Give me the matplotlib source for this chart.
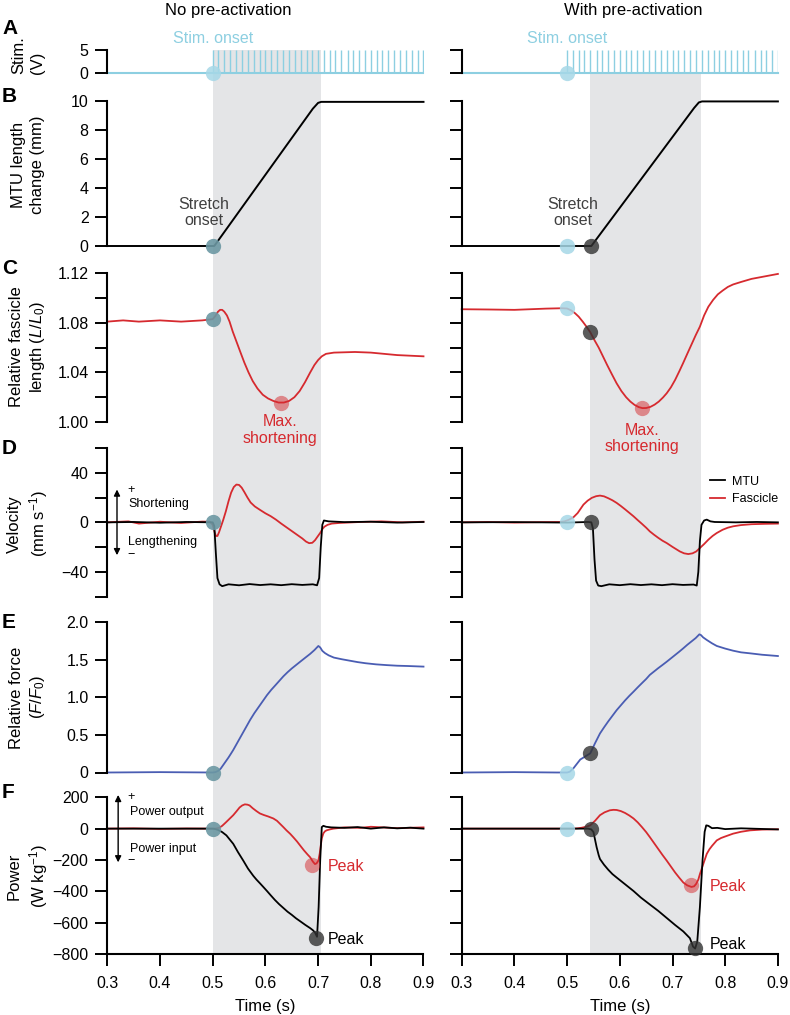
# Figura de estimulación, longitud, velocidad, fuerza y potencia
# (sin y con pre-activación), recreada con matplotlib.
import matplotlib
matplotlib.use("Agg")
import matplotlib.pyplot as plt
from matplotlib.patches import Rectangle
from matplotlib.transforms import blended_transform_factory

plt.rcParams["font.family"] = ["Liberation Sans", "DejaVu Sans"]
plt.rcParams["mathtext.fontset"] = "custom"
plt.rcParams["mathtext.rm"] = "Liberation Sans"
plt.rcParams["mathtext.it"] = "Liberation Sans:italic"
plt.rcParams["mathtext.bf"] = "Liberation Sans:bold"

# ---------------------------------------------------------------- datos
# Pulsos de estimulación (s), amplitud 5 V
stim_times = [0.500, 0.511, 0.522, 0.533, 0.544, 0.556, 0.567, 0.578, 0.589,
              0.600, 0.611, 0.622, 0.633, 0.644, 0.656, 0.667, 0.678, 0.689,
              0.700, 0.711, 0.722, 0.733, 0.744, 0.756, 0.767, 0.778, 0.789,
              0.800, 0.811, 0.822, 0.833, 0.844, 0.856, 0.867, 0.878, 0.889,
              0.900]
stim_amp = 5

# B: cambio de longitud del MTU (mm)
mtu_len_t_nopre = [0.300, 0.503, 0.690, 0.700, 0.706, 0.900]
mtu_len_nopre = [0.0, 0.0, 9.45, 9.85, 9.92, 9.92]
mtu_len_t_pre = [0.300, 0.546, 0.741, 0.750, 0.756, 0.900]
mtu_len_pre = [0.0, 0.0, 9.50, 9.88, 9.95, 9.95]

# C: longitud relativa del fascículo
fas_len_t_nopre = [0.300, 0.330, 0.360, 0.400, 0.440, 0.480, 0.500, 0.505,
                   0.510, 0.514, 0.518, 0.522, 0.527, 0.532, 0.538, 0.545,
                   0.552, 0.560, 0.568, 0.576, 0.585, 0.595, 0.605, 0.615,
                   0.625, 0.635, 0.645, 0.655, 0.665, 0.675, 0.685, 0.693,
                   0.700, 0.707, 0.715, 0.730, 0.770, 0.800, 0.850, 0.900]
fas_len_nopre = [1.081, 1.082, 1.081, 1.082, 1.081, 1.082, 1.083, 1.0855,
                 1.089, 1.0905, 1.0905, 1.089, 1.086, 1.081, 1.073, 1.065,
                 1.057, 1.048, 1.040, 1.033, 1.027, 1.022, 1.019, 1.017,
                 1.0157, 1.0157, 1.017, 1.020, 1.025, 1.032, 1.040, 1.046,
                 1.050, 1.053, 1.055, 1.056, 1.0565, 1.056, 1.054, 1.053]
fas_len_t_pre = [0.300, 0.350, 0.400, 0.460, 0.490, 0.500, 0.508, 0.515,
                 0.522, 0.530, 0.537, 0.544, 0.552, 0.560, 0.568, 0.576,
                 0.585, 0.594, 0.603, 0.612, 0.620, 0.628, 0.636, 0.643,
                 0.650, 0.658, 0.666, 0.674, 0.682, 0.689, 0.697, 0.705,
                 0.713, 0.720, 0.728, 0.736, 0.744, 0.752, 0.760, 0.768,
                 0.777, 0.786, 0.795, 0.805, 0.815, 0.830, 0.850, 0.875,
                 0.900]
fas_len_pre = [1.091, 1.0908, 1.0905, 1.0915, 1.0918, 1.0916, 1.0900, 1.0878,
               1.0850, 1.0808, 1.0768, 1.0724, 1.0660, 1.0600, 1.0530, 1.0460,
               1.0385, 1.0312, 1.0250, 1.0200, 1.0165, 1.0138, 1.0120, 1.0112,
               1.0113, 1.0122, 1.0140, 1.0165, 1.0198, 1.0232, 1.0280, 1.0340,
               1.0410, 1.0474, 1.0550, 1.0625, 1.0700, 1.0770, 1.0860, 1.0930,
               1.0985, 1.1030, 1.1060, 1.1090, 1.1110, 1.1130, 1.1155, 1.1175,
               1.1195]

# D: velocidad (mm s-1)
mtu_vel_t_nopre = [0.300, 0.350, 0.400, 0.450, 0.500, 0.503, 0.506, 0.509,
                   0.513, 0.518, 0.530, 0.550, 0.570, 0.590, 0.610, 0.630,
                   0.650, 0.670, 0.690, 0.698, 0.702, 0.705, 0.708, 0.711,
                   0.720, 0.750, 0.800, 0.850, 0.900]
mtu_vel_nopre = [0.0, 0.3, -0.3, 0.3, 0.0, -3, -25, -45, -50, -51.5, -50,
                 -50.8, -49.8, -50.6, -50, -50.7, -49.9, -50.5, -50, -50.8,
                 -45, -20, -2, 1.5, 0.8, 0.2, 0.5, -0.2, 0.3]
fas_vel_t_nopre = [0.300, 0.340, 0.360, 0.400, 0.440, 0.480, 0.495, 0.500,
                   0.503, 0.506, 0.509, 0.512, 0.516, 0.520, 0.525, 0.530,
                   0.535, 0.540, 0.545, 0.550, 0.555, 0.560, 0.566, 0.572,
                   0.580, 0.590, 0.600, 0.610, 0.620, 0.630, 0.640, 0.650,
                   0.660, 0.670, 0.677, 0.683, 0.689, 0.694, 0.699, 0.704,
                   0.708, 0.712, 0.718, 0.726, 0.740, 0.780, 0.820, 0.860,
                   0.900]
fas_vel_nopre = [0.0, 0.8, -1.0, 0.5, -0.5, 0.6, 0.5, -2, -7, -11, -11, -8,
                 -3, 2, 9, 17, 24, 28.5, 30.5, 30.2, 28, 24.5, 20, 16, 12.8,
                 10, 7.3, 5, 2.2, -1, -4, -7, -10, -13, -15.5, -16.8, -16.5,
                 -14.5, -11.5, -8.5, -5.5, -3.5, -2, -1, -0.5, 0.3, 0.8, 0.0,
                 0.5]
mtu_vel_t_pre = [0.300, 0.400, 0.500, 0.540, 0.546, 0.549, 0.552, 0.555,
                 0.559, 0.565, 0.580, 0.600, 0.620, 0.640, 0.660, 0.680,
                 0.700, 0.720, 0.740, 0.746, 0.749, 0.752, 0.755, 0.760,
                 0.765, 0.772, 0.780, 0.820, 0.860, 0.900]
mtu_vel_pre = [0.0, 0.2, -0.2, 0.3, 0.0, -5, -30, -47, -51, -51.5, -50, -50.7,
               -49.9, -50.6, -50, -50.7, -49.9, -50.5, -50.2, -51, -40, -15,
               -2, 1.5, 2.2, 0.8, 0.3, 0.0, 0.3, 0.0]
fas_vel_t_pre = [0.300, 0.350, 0.400, 0.450, 0.486, 0.495, 0.503, 0.512,
                 0.520, 0.531, 0.539, 0.547, 0.555, 0.5624, 0.570, 0.578,
                 0.586, 0.594, 0.602, 0.610, 0.618, 0.626, 0.634, 0.642,
                 0.650, 0.657, 0.665, 0.673, 0.681, 0.689, 0.700, 0.714,
                 0.722, 0.730, 0.738, 0.745, 0.752, 0.760, 0.768, 0.776,
                 0.784, 0.795, 0.805, 0.815, 0.830, 0.850, 0.875, 0.900]
fas_vel_pre = [0.0, 0.3, -0.2, 0.2, 0.3, 0.8, 2.0, 4.1, 7.5, 14.3, 17.5, 19.8,
               21.1, 21.6, 21.0, 19.5, 17.8, 15.7, 13.2, 10.5, 7.7, 4.9, 1.8,
               -1.2, -4.3, -7.3, -10, -12.5, -14.8, -16.7, -19.8, -23.5, -25,
               -25.6, -25, -23.5, -20.7, -17.5, -14, -11, -8.6, -6, -4.3,
               -3.2, -2.2, -1.5, -1.2, -1.0]

# E: fuerza relativa
force_t_nopre = [0.300, 0.400, 0.500, 0.505, 0.510, 0.515, 0.520, 0.525,
                 0.530, 0.535, 0.539, 0.547, 0.555, 0.563, 0.571, 0.579,
                 0.587, 0.595, 0.603, 0.611, 0.620, 0.627, 0.634, 0.642,
                 0.650, 0.658, 0.666, 0.675, 0.685, 0.693, 0.7005, 0.704,
                 0.708, 0.713, 0.720, 0.730, 0.745, 0.760, 0.775, 0.790,
                 0.810, 0.830, 0.850, 0.870, 0.900]
force_nopre = [0.0, 0.005, 0.0, 0.005, 0.02, 0.05, 0.10, 0.15, 0.20, 0.255,
               0.30, 0.40, 0.50, 0.60, 0.70, 0.79, 0.87, 0.95, 1.03, 1.10,
               1.17, 1.225, 1.28, 1.335, 1.385, 1.43, 1.475, 1.525, 1.58,
               1.63, 1.685, 1.665, 1.62, 1.59, 1.56, 1.53, 1.508, 1.489, 1.47,
               1.455, 1.44, 1.43, 1.422, 1.418, 1.41]
force_t_pre = [0.300, 0.400, 0.480, 0.500, 0.505, 0.512, 0.525, 0.544,
               0.553, 0.5624, 0.570, 0.578, 0.586, 0.594, 0.602, 0.610,
               0.618, 0.626, 0.634, 0.642, 0.650, 0.657, 0.665, 0.673,
               0.681, 0.689, 0.697, 0.705, 0.713, 0.7205, 0.728, 0.736,
               0.744, 0.751, 0.754, 0.758, 0.765, 0.775, 0.784, 0.800,
               0.815, 0.830, 0.847, 0.870, 0.900]
force_pre = [0.0, 0.005, 0.0, 0.0, 0.01, 0.056, 0.173, 0.255, 0.39, 0.52,
             0.60, 0.68, 0.755, 0.83, 0.895, 0.96, 1.02, 1.076, 1.134, 1.19,
             1.245, 1.30, 1.345, 1.39, 1.432, 1.475, 1.52, 1.565, 1.61,
             1.654, 1.70, 1.745, 1.79, 1.84, 1.83, 1.80, 1.765, 1.72, 1.685,
             1.65, 1.622, 1.60, 1.587, 1.568, 1.551]

# F: potencia (W kg-1)
mtu_pow_t_nopre = [0.300, 0.400, 0.500, 0.505, 0.510, 0.518, 0.526, 0.532,
                   0.539, 0.548, 0.558, 0.567, 0.577, 0.583, 0.590, 0.596,
                   0.603, 0.610, 0.618, 0.626, 0.634, 0.642, 0.650, 0.658,
                   0.666, 0.676, 0.685, 0.690, 0.694, 0.698, 0.701, 0.704,
                   0.707, 0.710, 0.715, 0.725, 0.750, 0.775, 0.800, 0.825,
                   0.850, 0.875, 0.900]
mtu_pow_nopre = [0, 0, 0, -3, -8, -22, -43, -68, -97, -150, -204, -255, -301,
                 -325, -350, -372, -398, -425, -455, -482, -506, -530, -550,
                 -572, -591, -615, -635, -648, -662, -690, -500, -200, 10, 18,
                 12, 8, 5, 10, 0, 8, 2, 6, 0]
fas_pow_t_nopre = [0.300, 0.350, 0.400, 0.450, 0.500, 0.506, 0.512, 0.518,
                   0.525, 0.532, 0.539, 0.545, 0.551, 0.556, 0.561, 0.566,
                   0.570, 0.576, 0.583, 0.5895, 0.597, 0.605, 0.615, 0.622,
                   0.628, 0.634, 0.640, 0.647, 0.653, 0.660, 0.666, 0.673,
                   0.680, 0.685, 0.690, 0.694, 0.697, 0.7005, 0.703, 0.705,
                   0.707, 0.710, 0.713, 0.716, 0.722, 0.729, 0.750, 0.780,
                   0.800, 0.850, 0.900]
fas_pow_nopre = [0, 2, -2, 1, 0, 1, 5, 18, 40, 63, 86, 110, 135, 148, 155,
                 153, 148, 130, 112, 97, 87, 78, 65, 50, 30, 10, -11, -33,
                 -55, -82, -108, -138, -165, -183, -210, -226, -222, -204,
                 -160, -110, -62, -30, -17, -11, -5, 0, 8, 5, 12, 3, 8]
mtu_pow_t_pre = [0.300, 0.400, 0.500, 0.540, 0.546, 0.550, 0.553, 0.556,
                 0.560, 0.5624, 0.570, 0.578, 0.586, 0.594, 0.610, 0.626,
                 0.640, 0.657, 0.673, 0.689, 0.705, 0.7205, 0.733, 0.739,
                 0.743, 0.747, 0.752, 0.757, 0.761, 0.764, 0.768, 0.775,
                 0.785, 0.800, 0.830, 0.860, 0.900]
mtu_pow_pre = [0, 0, 0, 0, -5, -22, -70, -118, -170, -194, -230, -262, -290,
               -312, -355, -398, -440, -484, -525, -570, -615, -656, -699,
               -753, -765, -720, -500, -200, -20, 21, 18, 3, 5, -3, 2, -1, -5]
fas_pow_t_pre = [0.300, 0.400, 0.500, 0.512, 0.520, 0.528, 0.536, 0.544,
                 0.553, 0.5624, 0.571, 0.581, 0.588, 0.594, 0.602, 0.610,
                 0.618, 0.626, 0.634, 0.642, 0.650, 0.657, 0.665, 0.673,
                 0.681, 0.689, 0.697, 0.705, 0.713, 0.7205, 0.728, 0.736,
                 0.741, 0.745, 0.749, 0.752, 0.756, 0.760, 0.765, 0.770,
                 0.775, 0.784, 0.792, 0.800, 0.815, 0.830, 0.847, 0.870,
                 0.900]
fas_pow_pre = [0, 0, 0, 0, 2, 6, 12, 21, 50, 86, 104, 117, 120, 119, 112, 100,
               84, 65, 40, 10, -22, -54, -92, -130, -168, -204, -242, -280,
               -314, -344, -362, -372, -368, -352, -325, -290, -250, -210,
               -161, -132, -110, -75, -60, -50, -32, -20, -11, -6, -4]

# Eventos marcados con círculos
stim_onset = 0.500
stretch_onset_pre = 0.545
shade_nopre = (0.500, 0.705)
shade_pre = (0.544, 0.754)
max_short_nopre = (0.630, 1.0155)
max_short_pre = (0.643, 1.011)
fas_peak_nopre = (0.688, -230)
mtu_peak_nopre = (0.696, -695)
fas_peak_pre = (0.735, -362)
mtu_peak_pre = (0.7427, -764)

# ---------------------------------------------------------------- estilo
STIM = "#8DCFE1"
RED = "#D62A2F"
BLUE = "#4A5DB3"
SHADE = "#E4E5E7"
ONSET_BOTH = "#6C98A3"
ONSET_STIM = "#A6D8E7"
DARK = "#333333"

W, H = 790, 1015
fig = plt.figure(figsize=(W / 100, H / 100), dpi=100)

# Filas: (y_superior, y_inferior) en píxeles
rows = {"A": (50.0, 72.7), "B": (100.7, 246.0), "C": (273.3, 422.0),
        "D": (448.0, 596.7), "E": (622.3, 772.5), "F": (797.3, 954.0)}
cols = {"nopre": 107.3, "pre": 461.7}
col_w = 316.2


def new_axes(row, col):
    top, bot = rows[row]
    ax = fig.add_axes([cols[col] / W, 1 - bot / H, col_w / W, (bot - top) / H])
    ax.patch.set_visible(False)
    for side in ["top", "right", "bottom"]:
        ax.spines[side].set_visible(False)
    ax.spines["left"].set_linewidth(1.5)
    ax.spines["bottom"].set_linewidth(1.5)
    ax.tick_params(direction="out", length=8.5, width=1.4, labelsize=11.5,
                   pad=5)
    ax.tick_params(axis="x", bottom=False, labelbottom=False)
    ax.set_xlim(0.3, 0.9)
    if col == "pre":
        ax.tick_params(labelleft=False)
    return ax


def dot(ax, x, y, color, alpha):
    ax.plot(x, y, "o", ms=11, color=color, alpha=alpha, mec="none",
            clip_on=False, zorder=5)


def double_arrow(ax, x, y0, y1):
    ax.annotate("", xy=(x, y1), xytext=(x, y0), annotation_clip=False,
                arrowprops=dict(arrowstyle="<|-|>", color="black", lw=1.0,
                                mutation_scale=9, shrinkA=0, shrinkB=0))


axes = {}
for col in cols:
    for row in rows:
        axes[(row, col)] = new_axes(row, col)

# Sombreado gris (estiramiento) que cruza todos los paneles
for col, (x0, x1), top in [("nopre", shade_nopre, 50.0),
                           ("pre", shade_pre, 72.7)]:
    trans = blended_transform_factory(axes[("F", col)].transData,
                                      fig.transFigure)
    rect = Rectangle((x0, 1 - 954.0 / H), x1 - x0, (954.0 - top) / H,
                     transform=trans, color=SHADE, lw=0, zorder=-1)
    fig.add_artist(rect)

# A: estimulación
for col in cols:
    ax = axes[("A", col)]
    ax.plot([0.3, 0.9], [0, 0], color=STIM, lw=1.5, clip_on=False)
    ax.vlines(stim_times, 0, stim_amp, color=STIM, lw=1.0)
    ax.set_ylim(0, 5)
    ax.set_yticks([0, 5])
    ax.text(stim_onset, 7.6, "Stim. onset", color=STIM, fontsize=11.5,
            ha="center", va="center")
    dot(ax, stim_onset, 0, ONSET_STIM, 0.85)

# B: longitud MTU
for col, t, v in [("nopre", mtu_len_t_nopre, mtu_len_nopre),
                  ("pre", mtu_len_t_pre, mtu_len_pre)]:
    ax = axes[("B", col)]
    ax.plot(t, v, color="black", lw=1.4, clip_on=False)
    ax.set_ylim(0, 10)
    ax.set_yticks([0, 2, 4, 6, 8, 10])
axes[("B", "nopre")].text(0.4835, 2.3, "Stretch\nonset", color="#404040",
                          fontsize=11.5, ha="center", va="center",
                          linespacing=1.1)
axes[("B", "pre")].text(0.511, 2.3, "Stretch\nonset", color="#404040",
                        fontsize=11.5, ha="center", va="center",
                        linespacing=1.1)
dot(axes[("B", "nopre")], stim_onset, 0, ONSET_BOTH, 0.9)
dot(axes[("B", "pre")], stim_onset, 0, ONSET_STIM, 0.85)
dot(axes[("B", "pre")], stretch_onset_pre, 0, DARK, 0.8)

# C: longitud del fascículo
for col, t, v in [("nopre", fas_len_t_nopre, fas_len_nopre),
                  ("pre", fas_len_t_pre, fas_len_pre)]:
    ax = axes[("C", col)]
    ax.plot(t, v, color=RED, lw=1.3, clip_on=False)
    ax.set_ylim(1.00, 1.12)
    ax.set_yticks([1.00, 1.02, 1.04, 1.06, 1.08, 1.10, 1.12])
    ax.set_yticklabels(["1.00", "", "1.04", "", "1.08", "", "1.12"])
axes[("C", "nopre")].text(0.628, 0.9935, "Max.\nshortening", color=RED,
                          fontsize=11.5, ha="center", va="center",
                          linespacing=1.1)
axes[("C", "pre")].text(0.6416, 0.9865, "Max.\nshortening", color=RED,
                        fontsize=11.5, ha="center", va="center",
                        linespacing=1.1)
dot(axes[("C", "nopre")], stim_onset, 1.083, ONSET_BOTH, 0.9)
dot(axes[("C", "nopre")], *max_short_nopre, color=RED, alpha=0.5)
dot(axes[("C", "pre")], stim_onset, 1.0918, ONSET_STIM, 0.85)
dot(axes[("C", "pre")], 0.544, 1.0724, DARK, 0.8)
dot(axes[("C", "pre")], *max_short_pre, color=RED, alpha=0.5)

# D: velocidad
for col, tm, vm, tf, vf in [
        ("nopre", mtu_vel_t_nopre, mtu_vel_nopre, fas_vel_t_nopre,
         fas_vel_nopre),
        ("pre", mtu_vel_t_pre, mtu_vel_pre, fas_vel_t_pre, fas_vel_pre)]:
    ax = axes[("D", col)]
    ax.plot(tf, vf, color=RED, lw=1.3, label="Fascicle", clip_on=False)
    ax.plot(tm, vm, color="black", lw=1.3, label="MTU", clip_on=False)
    ax.set_ylim(-60, 60)
    ax.set_yticks([-60, -40, -20, 0, 20, 40, 60])
    ax.set_yticklabels(["", "\u221240", "", "0", "", "40", ""])
axD = axes[("D", "nopre")]
double_arrow(axD, 0.3184, -26.5, 26.5)
axD.text(0.3380, 26.5, "+", fontsize=9, ha="left", va="center")
axD.text(0.3399, 15.1, "Shortening", fontsize=9, ha="left", va="center")
axD.text(0.3399, -15.9, "Lengthening", fontsize=9, ha="left", va="center")
axD.text(0.3375, -26.5, "\u2212", fontsize=9, ha="left", va="center")
dot(axD, stim_onset, 0, ONSET_BOTH, 0.9)
dot(axes[("D", "pre")], stim_onset, 0, ONSET_STIM, 0.85)
dot(axes[("D", "pre")], stretch_onset_pre, 0, DARK, 0.8)
handles, labels = axes[("D", "pre")].get_legend_handles_labels()
axes[("D", "pre")].legend(handles[::-1], labels[::-1], loc="center left",
                          bbox_to_anchor=(0.785, 0.715), frameon=False,
                          fontsize=9, handlelength=1.2, handletextpad=0.6,
                          labelspacing=0.45, borderpad=0, borderaxespad=0)

# E: fuerza
for col, t, v in [("nopre", force_t_nopre, force_nopre),
                  ("pre", force_t_pre, force_pre)]:
    ax = axes[("E", col)]
    ax.plot(t, v, color=BLUE, lw=1.3, clip_on=False)
    ax.set_ylim(0, 2.0)
    ax.set_yticks([0, 0.5, 1.0, 1.5, 2.0])
    ax.set_yticklabels(["0", "0.5", "1.0", "1.5", "2.0"])
dot(axes[("E", "nopre")], stim_onset, 0, ONSET_BOTH, 0.9)
dot(axes[("E", "pre")], stim_onset, 0, ONSET_STIM, 0.85)
dot(axes[("E", "pre")], 0.544, 0.255, DARK, 0.8)

# F: potencia
for col, tm, vm, tf, vf in [
        ("nopre", mtu_pow_t_nopre, mtu_pow_nopre, fas_pow_t_nopre,
         fas_pow_nopre),
        ("pre", mtu_pow_t_pre, mtu_pow_pre, fas_pow_t_pre, fas_pow_pre)]:
    ax = axes[("F", col)]
    ax.plot(tf, vf, color=RED, lw=1.3, clip_on=False)
    ax.plot(tm, vm, color="black", lw=1.3, clip_on=False)
    ax.set_ylim(-800, 200)
    ax.set_yticks([-800, -600, -400, -200, 0, 200])
    ax.spines["bottom"].set_visible(True)
    ax.tick_params(axis="x", bottom=True, labelbottom=True, pad=7)
    ax.set_xticks([0.3, 0.4, 0.5, 0.6, 0.7, 0.8, 0.9])
    ax.set_xlabel("Time (s)", fontsize=12, labelpad=6)
axF = axes[("F", "nopre")]
double_arrow(axF, 0.3206, -215, 215)
axF.text(0.3380, 200, "+", fontsize=9, ha="left", va="center")
axF.text(0.3431, 107, "Power output", fontsize=9, ha="left", va="center")
axF.text(0.3431, -129, "Power input", fontsize=9, ha="left", va="center")
axF.text(0.3375, -205, "\u2212", fontsize=9, ha="left", va="center")
axF.text(0.7188, -243, "Peak", color=RED, fontsize=11.5, va="center")
axF.text(0.7188, -710, "Peak", color="black", fontsize=11.5, va="center")
axes[("F", "pre")].text(0.7698, -372, "Peak", color=RED, fontsize=11.5,
                        va="center")
axes[("F", "pre")].text(0.7698, -742, "Peak", color="black", fontsize=11.5,
                        va="center")
dot(axF, stim_onset, 0, ONSET_BOTH, 0.9)
dot(axF, *fas_peak_nopre, color=RED, alpha=0.5)
dot(axF, *mtu_peak_nopre, color=DARK, alpha=0.8)
dot(axes[("F", "pre")], stim_onset, 0, ONSET_STIM, 0.85)
dot(axes[("F", "pre")], stretch_onset_pre, 0, DARK, 0.8)
dot(axes[("F", "pre")], *fas_peak_pre, color=RED, alpha=0.5)
dot(axes[("F", "pre")], *mtu_peak_pre, color=DARK, alpha=0.8)

# Títulos de columna, letras de panel y etiquetas del eje Y
fig.text(228 / W, 1 - 10 / H, "No pre-activation", fontsize=12,
         ha="center", va="center")
fig.text(633 / W, 1 - 10 / H, "With pre-activation", fontsize=12,
         ha="center", va="center")

letters = {"A": 28, "B": 97, "C": 269, "D": 448, "E": 622, "F": 792}
for letter, y in letters.items():
    fig.text(2 / W, 1 - y / H, letter, fontsize=15, fontweight="bold",
             ha="left", va="center")

ylabels = [("Stim.\n(V)", 55, "left"),
           ("MTU length\nchange (mm)", 165, "center"),
           ("Relative fascicle\nlength ($L$/$L_0$)", 347, "center"),
           ("Velocity\n(mm s$^{-1}$)", 524, "center"),
           ("Relative force\n($F$/$F_0$)", 697.5, "center"),
           ("Power\n(W kg$^{-1}$)", 876, "center")]
for text, y, align in ylabels:
    fig.text(28 / W, 1 - y / H, text, fontsize=12, rotation=90, ha="center",
             va="center", multialignment=align, linespacing=1.3)

fig.savefig("out.png", dpi=100)
plt.close(fig)
